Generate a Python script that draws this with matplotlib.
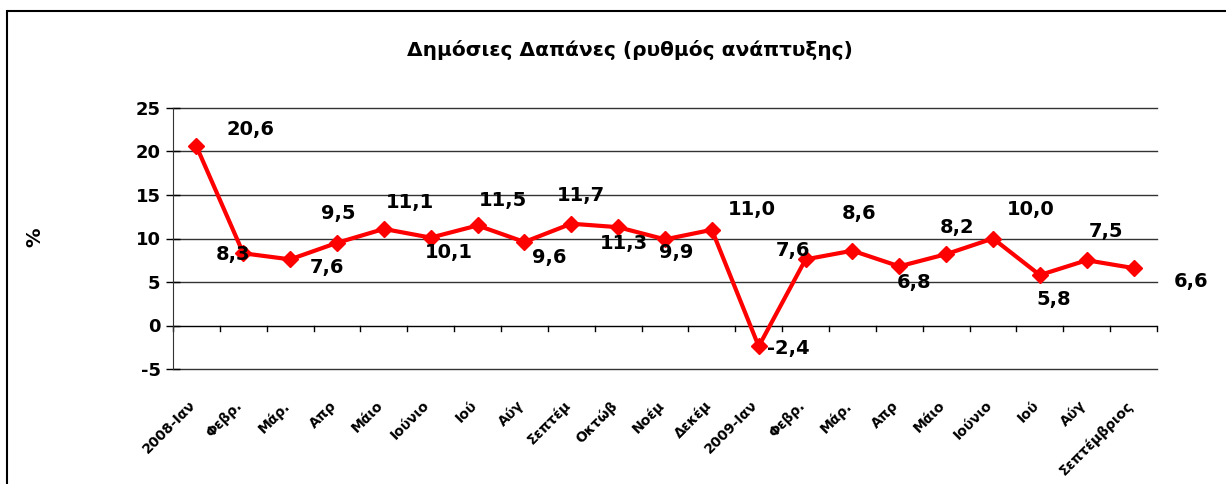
import numpy as np
import matplotlib.pyplot as plt
from matplotlib.patches import Rectangle
from matplotlib.transforms import ScaledTranslation

plt.rcParams['axes.unicode_minus'] = False

months = ["2008-Ιαν", "Φεβρ.", "Μάρ.", "Απρ", "Μάιο", "Ιούνιο", "Ιού", "Αύγ",
          "Σεπτέμ", "Οκτώβ", "Νοέμ", "Δεκέμ", "2009-Ιαν", "Φεβρ.", "Μάρ.", "Απρ",
          "Μάιο", "Ιούνιο", "Ιού", "Αύγ", "Σεπτέμβριος"]
growth = [20.6, 8.3, 7.6, 9.5, 11.1, 10.1, 11.5, 9.6, 11.7, 11.3, 9.9, 11.0,
          -2.4, 7.6, 8.6, 6.8, 8.2, 10.0, 5.8, 7.5, 6.6]
# label offsets in pixels (dx, dy) mimicking the Excel placement
offsets = [(54, 17), (-10, -1), (37, -8), (1, 29), (26, 26), (18, -15), (25, 25),
           (25, -16), (10, 28), (6, -16), (11, -13), (40, 20), (30, -2),
           (-13, 9), (7, 37), (15, -16), (11, 27), (38, 29), (14, -24),
           (19, 29), (57, -13)]

fig = plt.figure(figsize=(12.26, 4.84), dpi=100)
fig.patches.append(Rectangle((7 / 1226, -0.1), 1.2, 1 - 11 / 484 + 0.1,
                             transform=fig.transFigure, fill=False,
                             edgecolor='black', lw=1.5))
ax = fig.add_axes([173 / 1226, 1 - 369 / 484, 984 / 1226, 261 / 484])

x = np.arange(len(growth))
ax.plot(x, growth, color='#ff0000', lw=3, marker='D', markersize=8, zorder=3)

for i, v in enumerate(growth):
    dx, dy = offsets[i]
    ax.annotate(f"{v:.1f}".replace('.', ','), (i, v), xytext=(dx, dy),
                textcoords='offset pixels', ha='center', va='center',
                fontsize=14, fontweight='bold')

ax.set_xlim(-0.5, len(growth) - 0.5)
ax.set_ylim(-5, 25)
ax.set_yticks(range(-5, 30, 5))
ax.tick_params(axis='y', direction='inout', length=10, width=1, labelsize=13,
               pad=4)
for lab in ax.get_yticklabels():
    lab.set_fontweight('bold')
for yv in [-5, 5, 10, 15, 20, 25]:
    ax.axhline(yv, color='#333333', lw=1, zorder=1, clip_on=False)
ax.axhline(0, color='black', lw=1, zorder=2)

ax.spines['top'].set_visible(False)
ax.spines['right'].set_visible(False)
ax.spines['bottom'].set_visible(False)
ax.spines['left'].set_color('#333333')

ax.set_xticks(x)
ax.set_xticklabels(months, rotation=45, ha='right', rotation_mode='anchor',
                   fontsize=10, fontweight='bold')
ax.tick_params(axis='x', length=0, pad=21)
shift = ScaledTranslation(-8 / 100, 0, fig.dpi_scale_trans)
for lab in ax.get_xticklabels():
    lab.set_transform(lab.get_transform() + shift)
for i in range(len(growth) + 1):
    ax.plot([i - 0.5, i - 0.5], [0, -0.6], color='black', lw=1, clip_on=False)

fig.text(35 / 1226, 1 - 237 / 484, '%', rotation=90, ha='center', va='center',
         fontsize=14, fontweight='bold')
fig.text(630 / 1226, 1 - 50 / 484, 'Δημόσιες Δαπάνες (ρυθμός ανάπτυξης)',
         ha='center', va='center', fontsize=14.5, fontweight='bold')

fig.savefig('out.png', dpi=100)
